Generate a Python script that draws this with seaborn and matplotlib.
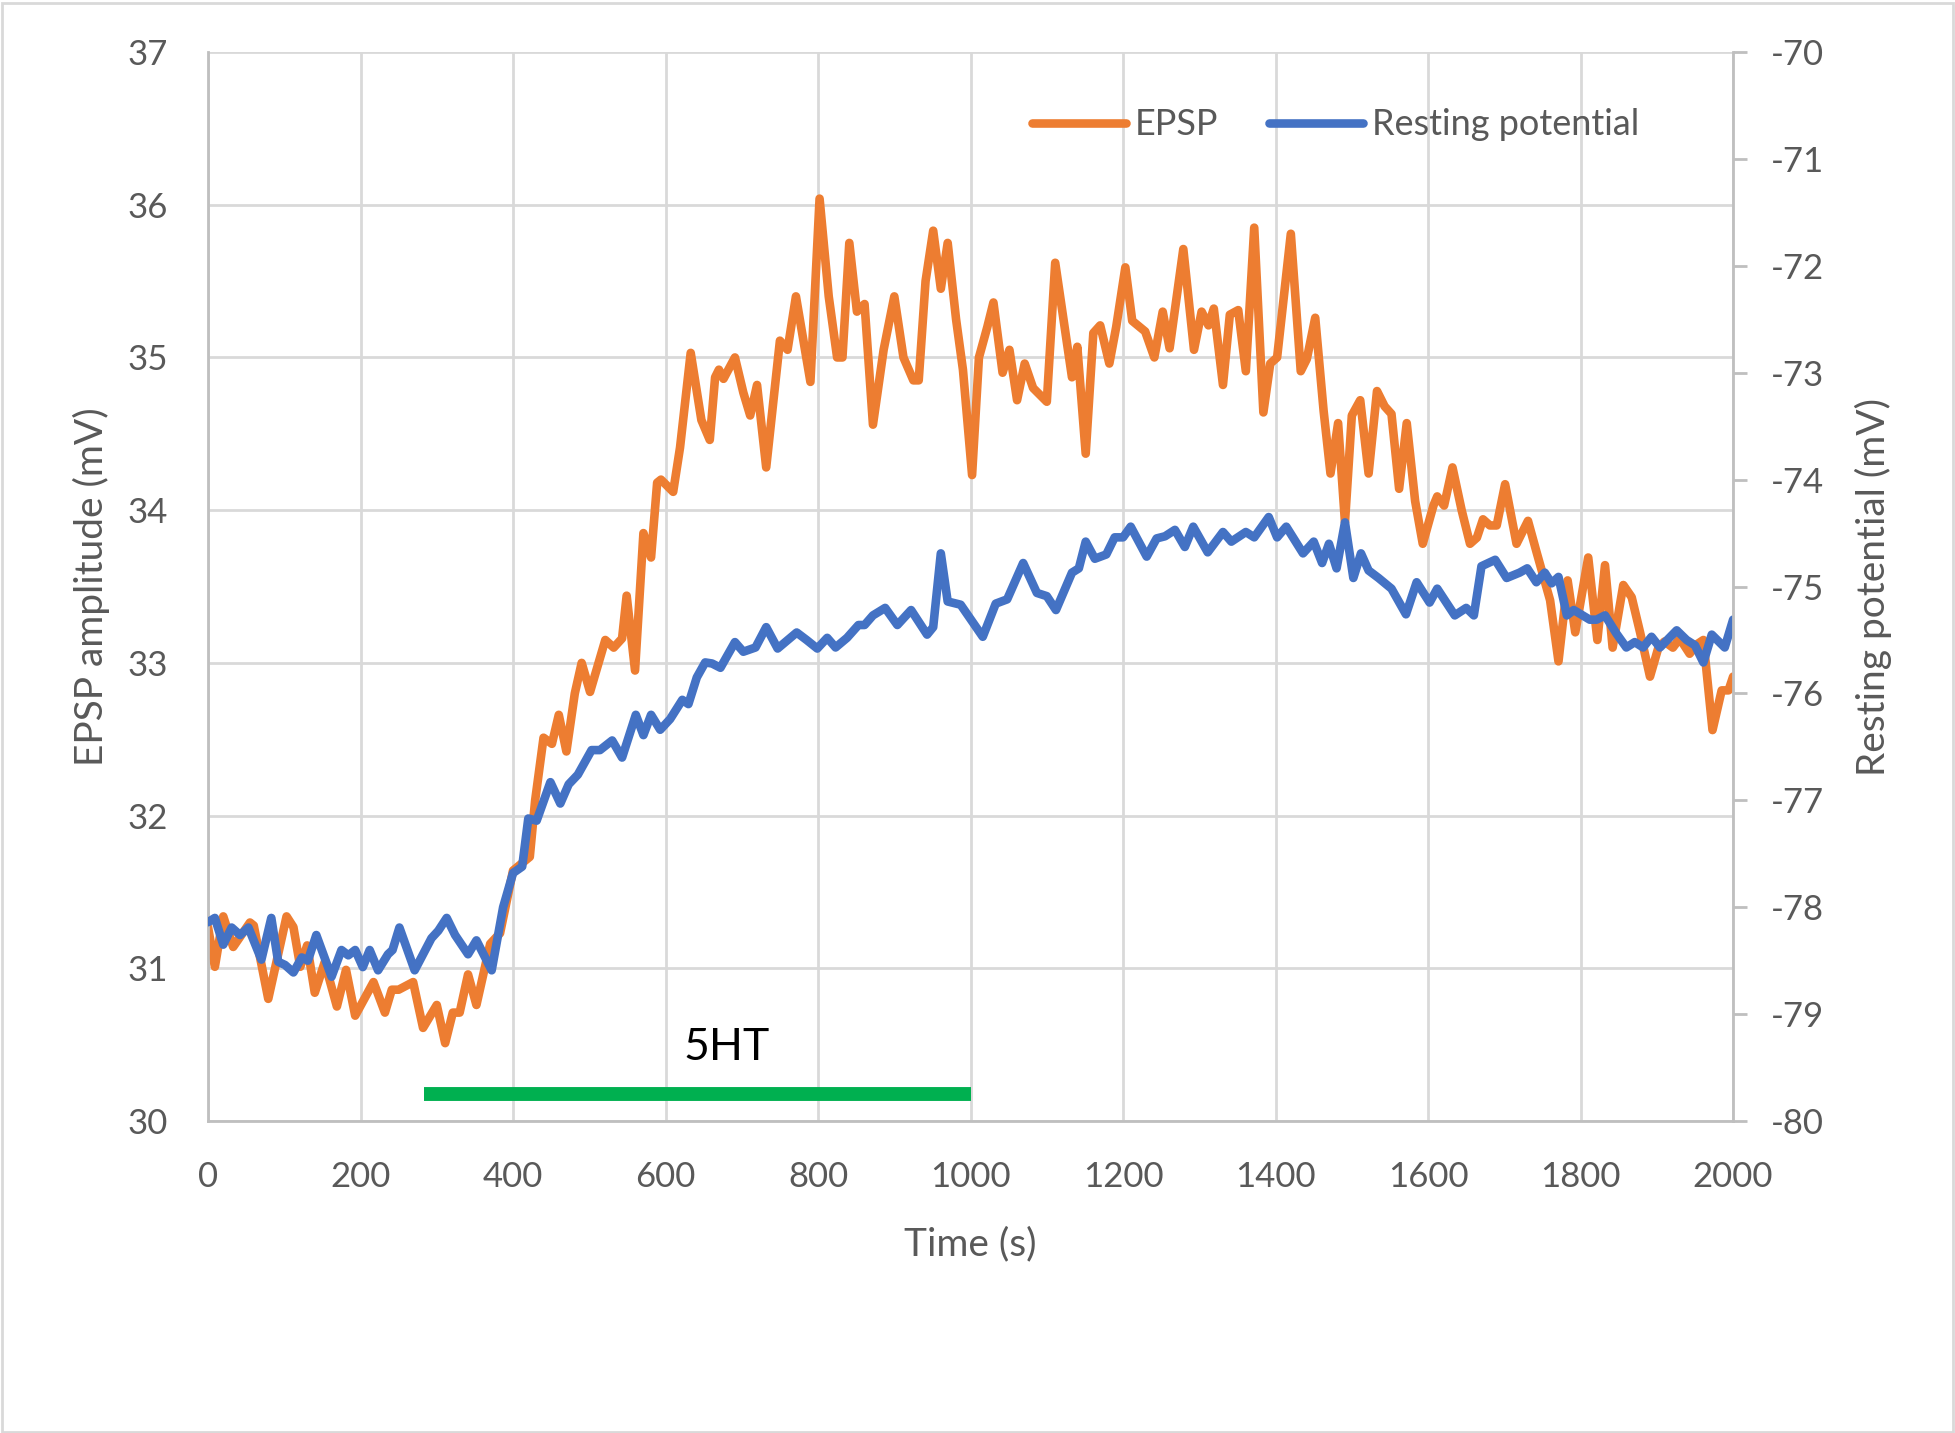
import matplotlib
matplotlib.use("Agg")
import matplotlib.pyplot as plt
import seaborn as sns
from matplotlib.patches import Rectangle

# EPSP amplitude (mV), left axis
t_epsp = [0, 9, 20, 33, 55, 60, 79, 103, 112, 121, 130, 140, 153, 169, 181, 193,
          217, 232, 241, 250, 269, 282, 300, 311, 321, 330, 341, 352, 370, 383,
          400, 422, 429, 440, 451, 460, 470, 481, 490, 501, 521, 532, 543, 549,
          560, 571, 581, 589, 594, 610, 619, 633, 647, 658, 665, 670, 676, 691,
          702, 711, 720, 732, 750, 760, 771, 790, 802, 814, 825, 832, 841, 851,
          861, 872, 886, 900, 912, 925, 932, 941, 951, 961, 970, 981, 990, 1002,
          1011, 1022, 1030, 1042, 1051, 1061, 1071, 1082, 1100, 1111, 1133, 1140,
          1151, 1161, 1170, 1182, 1191, 1203, 1212, 1229, 1241, 1252, 1261, 1279,
          1293, 1303, 1312, 1319, 1331, 1340, 1351, 1361, 1372, 1384, 1393, 1402,
          1420, 1433, 1441, 1452, 1463, 1472, 1482, 1491, 1500, 1511, 1522, 1533,
          1543, 1552, 1562, 1572, 1583, 1593, 1607, 1612, 1621, 1632, 1644, 1655,
          1664, 1672, 1681, 1690, 1701, 1716, 1731, 1742, 1760, 1771, 1783, 1793,
          1810, 1822, 1832, 1842, 1856, 1867, 1878, 1891, 1902, 1910, 1921, 1930,
          1943, 1952, 1961, 1973, 1985, 1994, 2000]
epsp = [31.27, 31.01, 31.34, 31.14, 31.30, 31.28, 30.80, 31.34, 31.27, 31.01, 31.15,
        30.84, 31.04, 30.75, 30.99, 30.69, 30.91, 30.71, 30.86, 30.86, 30.91, 30.61,
        30.76, 30.51, 30.71, 30.71, 30.96, 30.76, 31.16, 31.23, 31.64, 31.73, 32.10,
        32.51, 32.47, 32.66, 32.42, 32.80, 33.00, 32.81, 33.15, 33.10, 33.16, 33.44,
        32.95, 33.85, 33.69, 34.18, 34.20, 34.12, 34.41, 35.03, 34.59, 34.46, 34.87,
        34.92, 34.86, 35.00, 34.77, 34.62, 34.82, 34.28, 35.11, 35.05, 35.40, 34.84,
        36.04, 35.40, 35.00, 35.00, 35.75, 35.30, 35.35, 34.56, 35.05, 35.40, 35.00,
        34.85, 34.85, 35.50, 35.83, 35.45, 35.75, 35.25, 34.92, 34.23, 35.00, 35.20,
        35.36, 34.90, 35.05, 34.72, 34.96, 34.80, 34.71, 35.62, 34.87, 35.07, 34.37,
        35.16, 35.21, 34.96, 35.20, 35.59, 35.24, 35.17, 35.00, 35.30, 35.06, 35.71,
        35.05, 35.30, 35.21, 35.32, 34.82, 35.28, 35.31, 34.91, 35.85, 34.64, 34.96,
        35.00, 35.81, 34.91, 34.99, 35.26, 34.65, 34.24, 34.57, 33.92, 34.62, 34.72,
        34.24, 34.78, 34.68, 34.63, 34.14, 34.57, 34.06, 33.78, 34.03, 34.09, 34.03,
        34.28, 34.00, 33.78, 33.82, 33.94, 33.90, 33.90, 34.17, 33.78, 33.93, 33.73,
        33.41, 33.01, 33.54, 33.20, 33.69, 33.15, 33.64, 33.10, 33.51, 33.43, 33.20,
        32.91, 33.10, 33.14, 33.10, 33.16, 33.06, 33.12, 33.15, 32.56, 32.82, 32.82,
        32.91]

# Resting potential (mV), right axis
t_rest = [0, 9, 20, 31, 42, 53, 70, 83, 92, 101, 112, 123, 131, 142, 162, 175, 184,
          193, 203, 212, 223, 236, 242, 251, 271, 293, 302, 313, 324, 341, 352, 372,
          387, 400, 412, 420, 431, 449, 462, 473, 485, 503, 514, 530, 543, 561, 571,
          581, 593, 606, 622, 630, 641, 652, 661, 672, 691, 702, 718, 732, 747, 772,
          785, 799, 812, 823, 838, 853, 861, 872, 888, 904, 922, 943, 951, 961, 970,
          987, 1016, 1033, 1048, 1069, 1087, 1100, 1112, 1133, 1142, 1151, 1163, 1178,
          1189, 1200, 1210, 1231, 1244, 1255, 1268, 1281, 1292, 1311, 1331, 1342, 1361,
          1372, 1391, 1402, 1414, 1436, 1450, 1461, 1470, 1480, 1491, 1502, 1512, 1522,
          1535, 1552, 1571, 1585, 1602, 1612, 1635, 1650, 1660, 1670, 1688, 1703, 1720,
          1730, 1742, 1753, 1762, 1771, 1782, 1791, 1812, 1821, 1832, 1847, 1860, 1871,
          1882, 1893, 1904, 1926, 1939, 1950, 1961, 1972, 1989, 2000]
rest = [-78.14, -78.10, -78.35, -78.19, -78.26, -78.19, -78.49, -78.10, -78.51, -78.54,
        -78.61, -78.47, -78.50, -78.26, -78.65, -78.40, -78.45, -78.40, -78.56, -78.40,
        -78.59, -78.44, -78.40, -78.19, -78.59, -78.29, -78.22, -78.10, -78.26, -78.44,
        -78.31, -78.59, -78.00, -77.68, -77.62, -77.17, -77.19, -76.83, -77.03, -76.85,
        -76.76, -76.53, -76.53, -76.44, -76.60, -76.20, -76.39, -76.20, -76.34, -76.24,
        -76.06, -76.10, -75.85, -75.71, -75.72, -75.76, -75.52, -75.61, -75.57, -75.38,
        -75.58, -75.43, -75.50, -75.58, -75.48, -75.57, -75.48, -75.36, -75.36, -75.27,
        -75.20, -75.36, -75.22, -75.45, -75.38, -74.69, -75.14, -75.17, -75.47, -75.16,
        -75.12, -74.78, -75.06, -75.09, -75.22, -74.87, -74.83, -74.58, -74.74, -74.70,
        -74.54, -74.54, -74.44, -74.72, -74.55, -74.53, -74.47, -74.63, -74.44, -74.68,
        -74.49, -74.58, -74.49, -74.54, -74.35, -74.54, -74.44, -74.69, -74.58, -74.78,
        -74.60, -74.83, -74.40, -74.92, -74.69, -74.85, -74.92, -75.02, -75.26, -74.96,
        -75.15, -75.02, -75.27, -75.20, -75.27, -74.81, -74.75, -74.92, -74.87, -74.83,
        -74.96, -74.87, -74.97, -74.91, -75.27, -75.22, -75.31, -75.31, -75.27, -75.44,
        -75.57, -75.52, -75.57, -75.47, -75.57, -75.41, -75.50, -75.55, -75.71, -75.45,
        -75.57, -75.31]

# 5HT application period
ht_start, ht_end = 283, 1000
ht_level = 30.18
ht_label_x, ht_label_y = 680, 30.48

x_ticks = list(range(0, 2001, 200))
left_ticks = list(range(30, 38))
right_ticks = list(range(-80, -69))

sns.set_theme(style="white")
plt.rcParams['font.family'] = ['Lato', 'DejaVu Sans']
plt.rcParams['axes.unicode_minus'] = False

text_grey = "#595959"
orange = "#ED7D31"
blue = "#4472C4"

fig = plt.figure(figsize=(19.55, 14.33), dpi=100)
ax = fig.add_axes([0.1064, 0.2177, 0.7801, 0.7460])
ax2 = ax.twinx()

sns.lineplot(x=t_epsp, y=epsp, ax=ax, color=orange, lw=6.2, label="EPSP",
             legend=False, solid_joinstyle="round", solid_capstyle="round")
sns.lineplot(x=t_rest, y=rest, ax=ax2, color=blue, lw=6.2, label="Resting potential",
             legend=False, solid_joinstyle="round", solid_capstyle="round")

# green bar for 5HT
ax.hlines(ht_level, ht_start, ht_end, color="#00B050", lw=10)
ax.text(ht_label_x, ht_label_y, "5HT", fontsize=32, color="black",
        ha="center", va="center")

ax.set_xlim(0, 2000)
ax.set_ylim(30, 37)
ax2.set_ylim(-80, -70)
ax.set_xticks(x_ticks)
ax.set_yticks(left_ticks)
ax2.set_yticks(right_ticks)

ax.grid(True, color="#d9d9d9", lw=2)
ax.set_axisbelow(True)
for s in ["top", "right"]:
    ax.spines[s].set_visible(False)
for s in ["left", "bottom"]:
    ax.spines[s].set_color("#bfbfbf")
    ax.spines[s].set_linewidth(2)
for s in ["top", "left", "bottom"]:
    ax2.spines[s].set_visible(False)
ax2.spines["right"].set_color("#bfbfbf")
ax2.spines["right"].set_linewidth(2)

ax.tick_params(axis="x", length=0, pad=29, labelsize=25, labelcolor=text_grey)
ax.tick_params(axis="y", length=0, pad=29, labelsize=25, labelcolor=text_grey)
ax2.tick_params(axis="y", length=10, width=2, color="#bfbfbf", pad=17,
                labelsize=25, labelcolor=text_grey)

ax.set_xlabel("Time (s)", fontsize=28, color=text_grey)
ax.xaxis.set_label_coords(0.5, -0.098)
ax.set_ylabel("EPSP amplitude (mV)", fontsize=28, color=text_grey)
ax.yaxis.set_label_coords(-0.064, 0.5)
ax2.set_ylabel("Resting potential (mV)", fontsize=28, color=text_grey)
ax2.yaxis.set_label_coords(1.080, 0.5)

h1, l1 = ax.get_legend_handles_labels()
h2, l2 = ax2.get_legend_handles_labels()
fig.legend(h1 + h2, l1 + l2, loc="center left", bbox_to_anchor=(0.528, 0.913),
           bbox_transform=fig.transFigure, ncol=2, frameon=False, fontsize=26,
           labelcolor=text_grey, handlelength=2.6, handletextpad=0.25,
           columnspacing=1.4, borderpad=0, borderaxespad=0)

fig.patches.append(Rectangle((0.001, 0.001), 0.998, 0.997, transform=fig.transFigure,
                             fill=False, edgecolor="#d9d9d9", lw=2))

fig.savefig("out.png", dpi=100)
